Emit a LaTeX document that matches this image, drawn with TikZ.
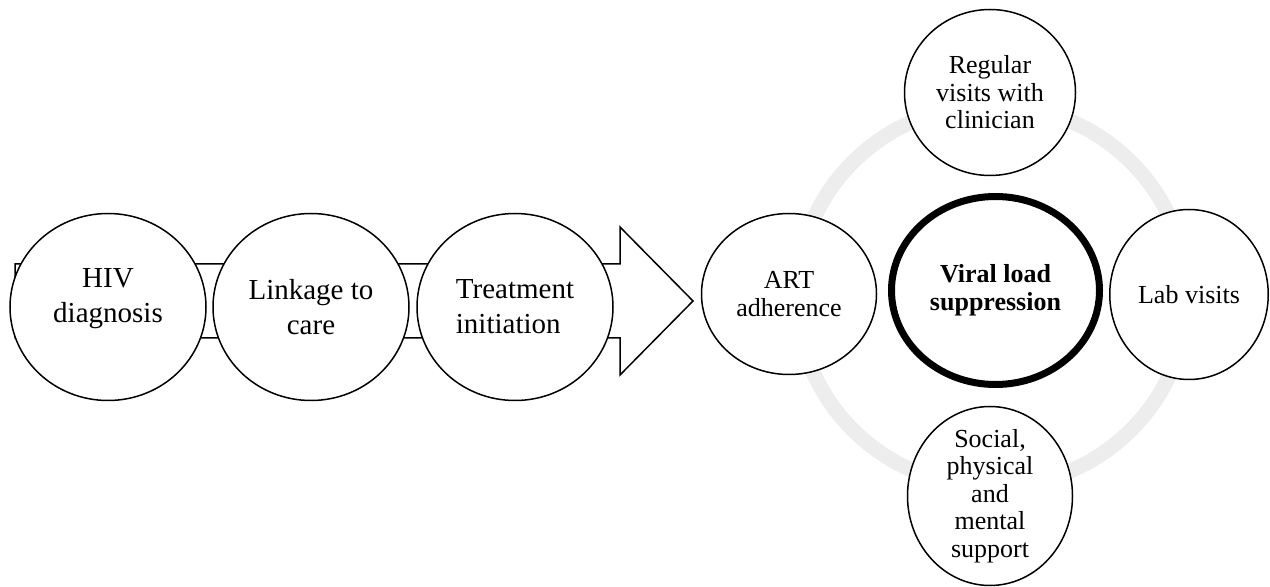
\documentclass[tikz,border=0pt]{standalone}
\usepackage{fontspec}
\setmainfont{Liberation Serif}
\usetikzlibrary{shapes.geometric, positioning}

\begin{document}
\begin{tikzpicture}[
    x=0.5pt, y=-0.5pt,
    every node/.style={ellipse, draw, fill=white, align=center, inner sep=-6pt, line width=0.75pt},
    stage/.style={minimum width=98pt, minimum height=93.5pt, font=\fontsize{14.5}{17.5}\selectfont},
    factor/.style={font=\fontsize{13}{13.8}\selectfont},
    hub/.style={line width=3.5pt, font=\bfseries\fontsize{13}{13.8}\selectfont},
    ring/.style={draw=black!7, line width=7.5pt},
    flow/.style={draw, line width=0.75pt, line join=miter}
]
\useasboundingbox (0,0) rectangle (1270,587);

% Big arrow behind the care steps
\draw[flow] (15,264) -- (620,264) -- (620,227) -- (693,301) -- (620,375) -- (620,338) -- (15,338) -- cycle;

% Grey ring behind the factors
\draw[ring] (992,296) ellipse [x radius=97.5pt, y radius=95.5pt];

% Care steps
\node[stage] (hiv) at (108,307) {HIV\\diagnosis\\[-5.8pt]\mbox{}};
\node[stage, right=2.75pt of hiv] (link) {Linkage to\\care};
\node[stage, right=3.25pt of link, align=left] (treat) {Treatment\\initiation};

% Hub and factors
\node[hub, minimum width=104pt, minimum height=94pt] (vls) at (995.5,290.5) {Viral load\\suppression};
\node[factor, minimum width=87.5pt, minimum height=80.5pt] (art) at (789,294) {ART\\adherence};
\node[factor, minimum width=85.5pt, minimum height=83pt] (visits) at (990,92.5) {Regular\\visits with\\clinician};
\node[factor, minimum width=79.25pt, minimum height=85pt] (lab) at (1189,294.5) {Lab visits};
\node[factor, minimum width=82.5pt, minimum height=89.5pt] (support) at (990,496) {Social,\\physical\\and\\mental\\support};

\end{tikzpicture}
\end{document}
